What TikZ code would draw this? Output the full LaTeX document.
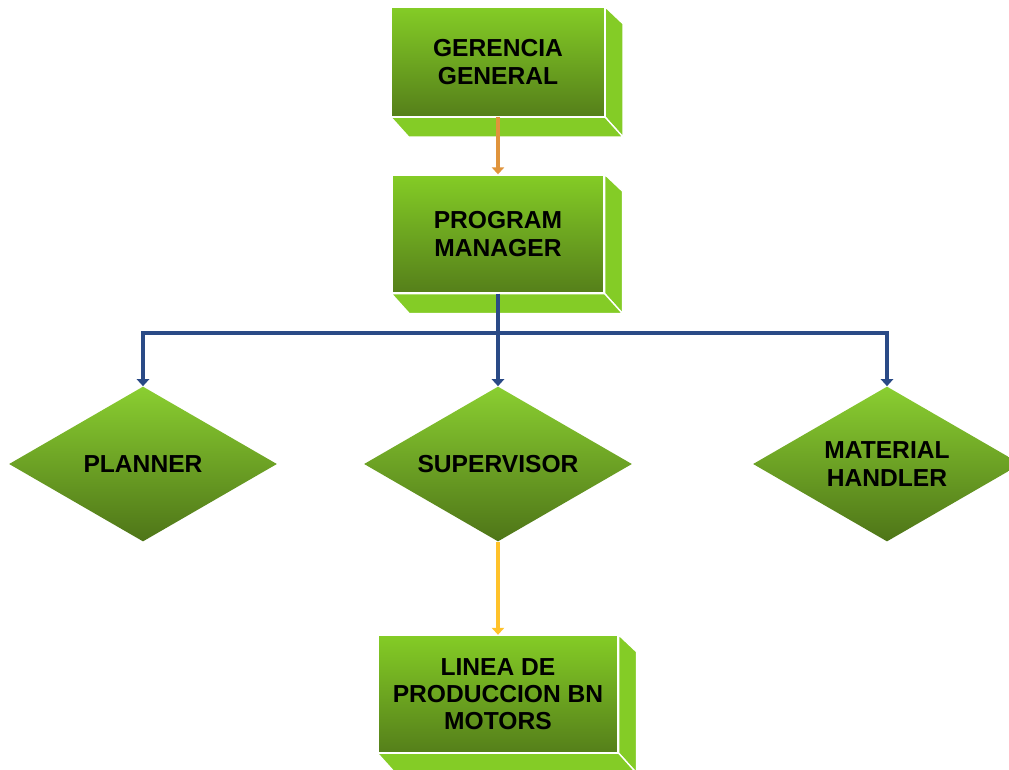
\documentclass[tikz,border=0pt]{standalone}
\usepackage{fontspec}
\setmainfont{Liberation Sans}
\usetikzlibrary{arrows.meta, positioning, shapes.geometric}
\definecolor{leaf}{HTML}{84CC26}
\definecolor{leafdk}{HTML}{557F1A}
\definecolor{amber}{HTML}{E0943C}
\definecolor{navy}{HTML}{2A4A86}
\definecolor{gold}{HTML}{FFC22A}
\tikzset{
  blk/.style={draw=white, line width=0.8pt, top color=leaf, bottom color=leafdk,
              inner sep=4pt, align=center, font=\bfseries\fontsize{14}{15.5}\selectfont},
  dm/.style={diamond, shape aspect=1.73, draw=none, top color=leaf!95!white,
             bottom color=leafdk!92!black, inner sep=0pt, minimum width=5.36cm,
             minimum height=3.1cm, align=center,
             font=\bfseries\fontsize{14}{15.5}\selectfont},
  sd/.style={fill=leaf, draw=white, line width=0.8pt, line join=round},
  fl/.style={-{Triangle[length=4pt, width=7pt]}, line width=2.1pt},
}
% right and bottom faces of a block
\newcommand{\depth}[1]{%
  \filldraw[sd] (#1.north east) -- ([shift={(18,17)}]#1.north east)
    -- ([shift={(18,20)}]#1.south east) -- (#1.south east) -- cycle;
  \filldraw[sd] (#1.south west) -- (#1.south east)
    -- ([shift={(18,20)}]#1.south east) -- ([shift={(18,20)}]#1.south west) -- cycle;
}
\begin{document}
\begin{tikzpicture}[x=0.02cm, y=-0.02cm]
    \clip (0,0) rectangle (1009,769);
    \fill[white] (0,0) rectangle (1009,769);
    % blocks
    \node[blk, minimum width=4.26cm, minimum height=2.18cm] (gg) at (498,62) {GERENCIA\\GENERAL};
    \node[blk, minimum width=4.24cm, minimum height=2.36cm] (pm) at (498,234) {PROGRAM\\MANAGER};
    \node[blk, minimum width=4.8cm, minimum height=2.34cm] (lp) at (498,694) {LINEA DE\\PRODUCCION BN\\MOTORS};
    \depth{gg}
    \depth{pm}
    \depth{lp}
    % diamonds
    \node[dm] (pl) at (143,464) {PLANNER};
    \node[dm] (sv) at (498,464) {SUPERVISOR};
    \node[dm] (mh) at (887,464) {MATERIAL\\HANDLER};
    % connectors
    \coordinate (split) at (498,333);
    \draw[fl, amber] (gg.south) -- (pm.north);
    \draw[navy, line width=2.1pt] (pm.south) -- (split);
    \draw[fl, navy] (split) -| (pl.north);
    \draw[fl, navy] (split) -- (sv.north);
    \draw[fl, navy] (split) -| (mh.north);
    \draw[fl, gold] (sv.south) -- (lp.north);
  \end{tikzpicture}
\end{document}
